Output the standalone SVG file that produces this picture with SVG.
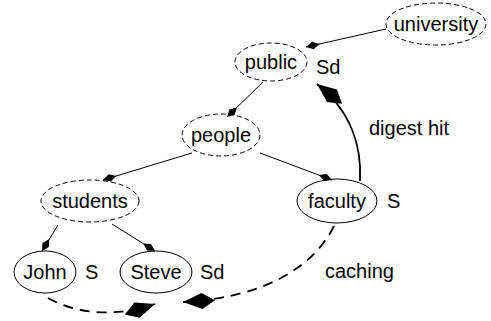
<svg xmlns="http://www.w3.org/2000/svg" width="491" height="321" viewBox="0 0 491 321">
<style>
text{font-family:"Liberation Sans",Arial,sans-serif;font-size:20px;fill:#000}
.c{text-anchor:middle}
.n{fill:none;stroke:#000;stroke-width:1}
.d{stroke-dasharray:5,3}
.e{fill:none;stroke:#000;stroke-width:1}
.b{fill:none;stroke:#000;stroke-width:1.8}
.bd{stroke-dasharray:10,7}
</style>
<defs>
<marker id="sd" markerUnits="userSpaceOnUse" markerWidth="16" markerHeight="10" viewBox="0 -5 16 10" refX="14" refY="0" orient="auto">
<path d="M0,0 L7,-3.8 L14,0 L7,3.8 Z" fill="#000"/>
</marker>
<marker id="ld" markerUnits="userSpaceOnUse" markerWidth="34" markerHeight="20" viewBox="0 -10 34 20" refX="32" refY="0" orient="auto">
<path d="M0,0 L13,-8 L32,0 L13,8 Z" fill="#000"/>
</marker>
</defs>
<g id="connectors">
<line class="e" x1="386" y1="29" x2="306" y2="47" marker-end="url(#sd)"/>
<line class="e" x1="263" y1="82" x2="227" y2="117" marker-end="url(#sd)"/>
<line class="e" x1="192" y1="153" x2="103" y2="180" marker-end="url(#sd)"/>
<line class="e" x1="260" y1="153" x2="332" y2="180" marker-end="url(#sd)"/>
<line class="e" x1="58" y1="225" x2="42" y2="251" marker-end="url(#sd)"/>
<line class="e" x1="112" y1="224" x2="155" y2="251" marker-end="url(#sd)"/>
<path class="b" d="M360,181 C362,145 350,110 317,84" marker-end="url(#ld)"/>
<path class="b bd" d="M334,226 C312,270 260,298 183,302" marker-end="url(#ld)"/>
<path class="b bd" d="M48,298 C80,316 120,316 155,304" marker-end="url(#ld)"/>
</g>
<g id="university"><ellipse class="n d" cx="436" cy="24" rx="50" ry="21"/><text class="c" x="436" y="31">university</text></g>
<g id="public"><ellipse class="n d" cx="271" cy="62" rx="36" ry="19"/><text class="c" x="271" y="69">public</text><text x="316" y="74">Sd</text></g>
<g id="people"><ellipse class="n d" cx="221" cy="135" rx="39" ry="21"/><text class="c" x="221" y="142">people</text></g>
<g id="students"><ellipse class="n d" cx="90" cy="201" rx="49" ry="21"/><text class="c" x="90" y="208">students</text></g>
<g id="faculty"><ellipse class="n" cx="337" cy="201" rx="40" ry="22"/><text class="c" x="337" y="208">faculty</text><text x="387" y="208">S</text></g>
<g id="John"><ellipse class="n" cx="45" cy="272" rx="31" ry="21"/><text class="c" x="45" y="279">John</text><text x="85" y="279">S</text></g>
<g id="Steve"><ellipse class="n" cx="156" cy="272" rx="36" ry="21"/><text class="c" x="156" y="279">Steve</text><text x="200" y="279">Sd</text></g>
<g id="labels"><text x="369" y="135">digest hit</text><text x="325" y="278">caching</text></g>
</svg>
